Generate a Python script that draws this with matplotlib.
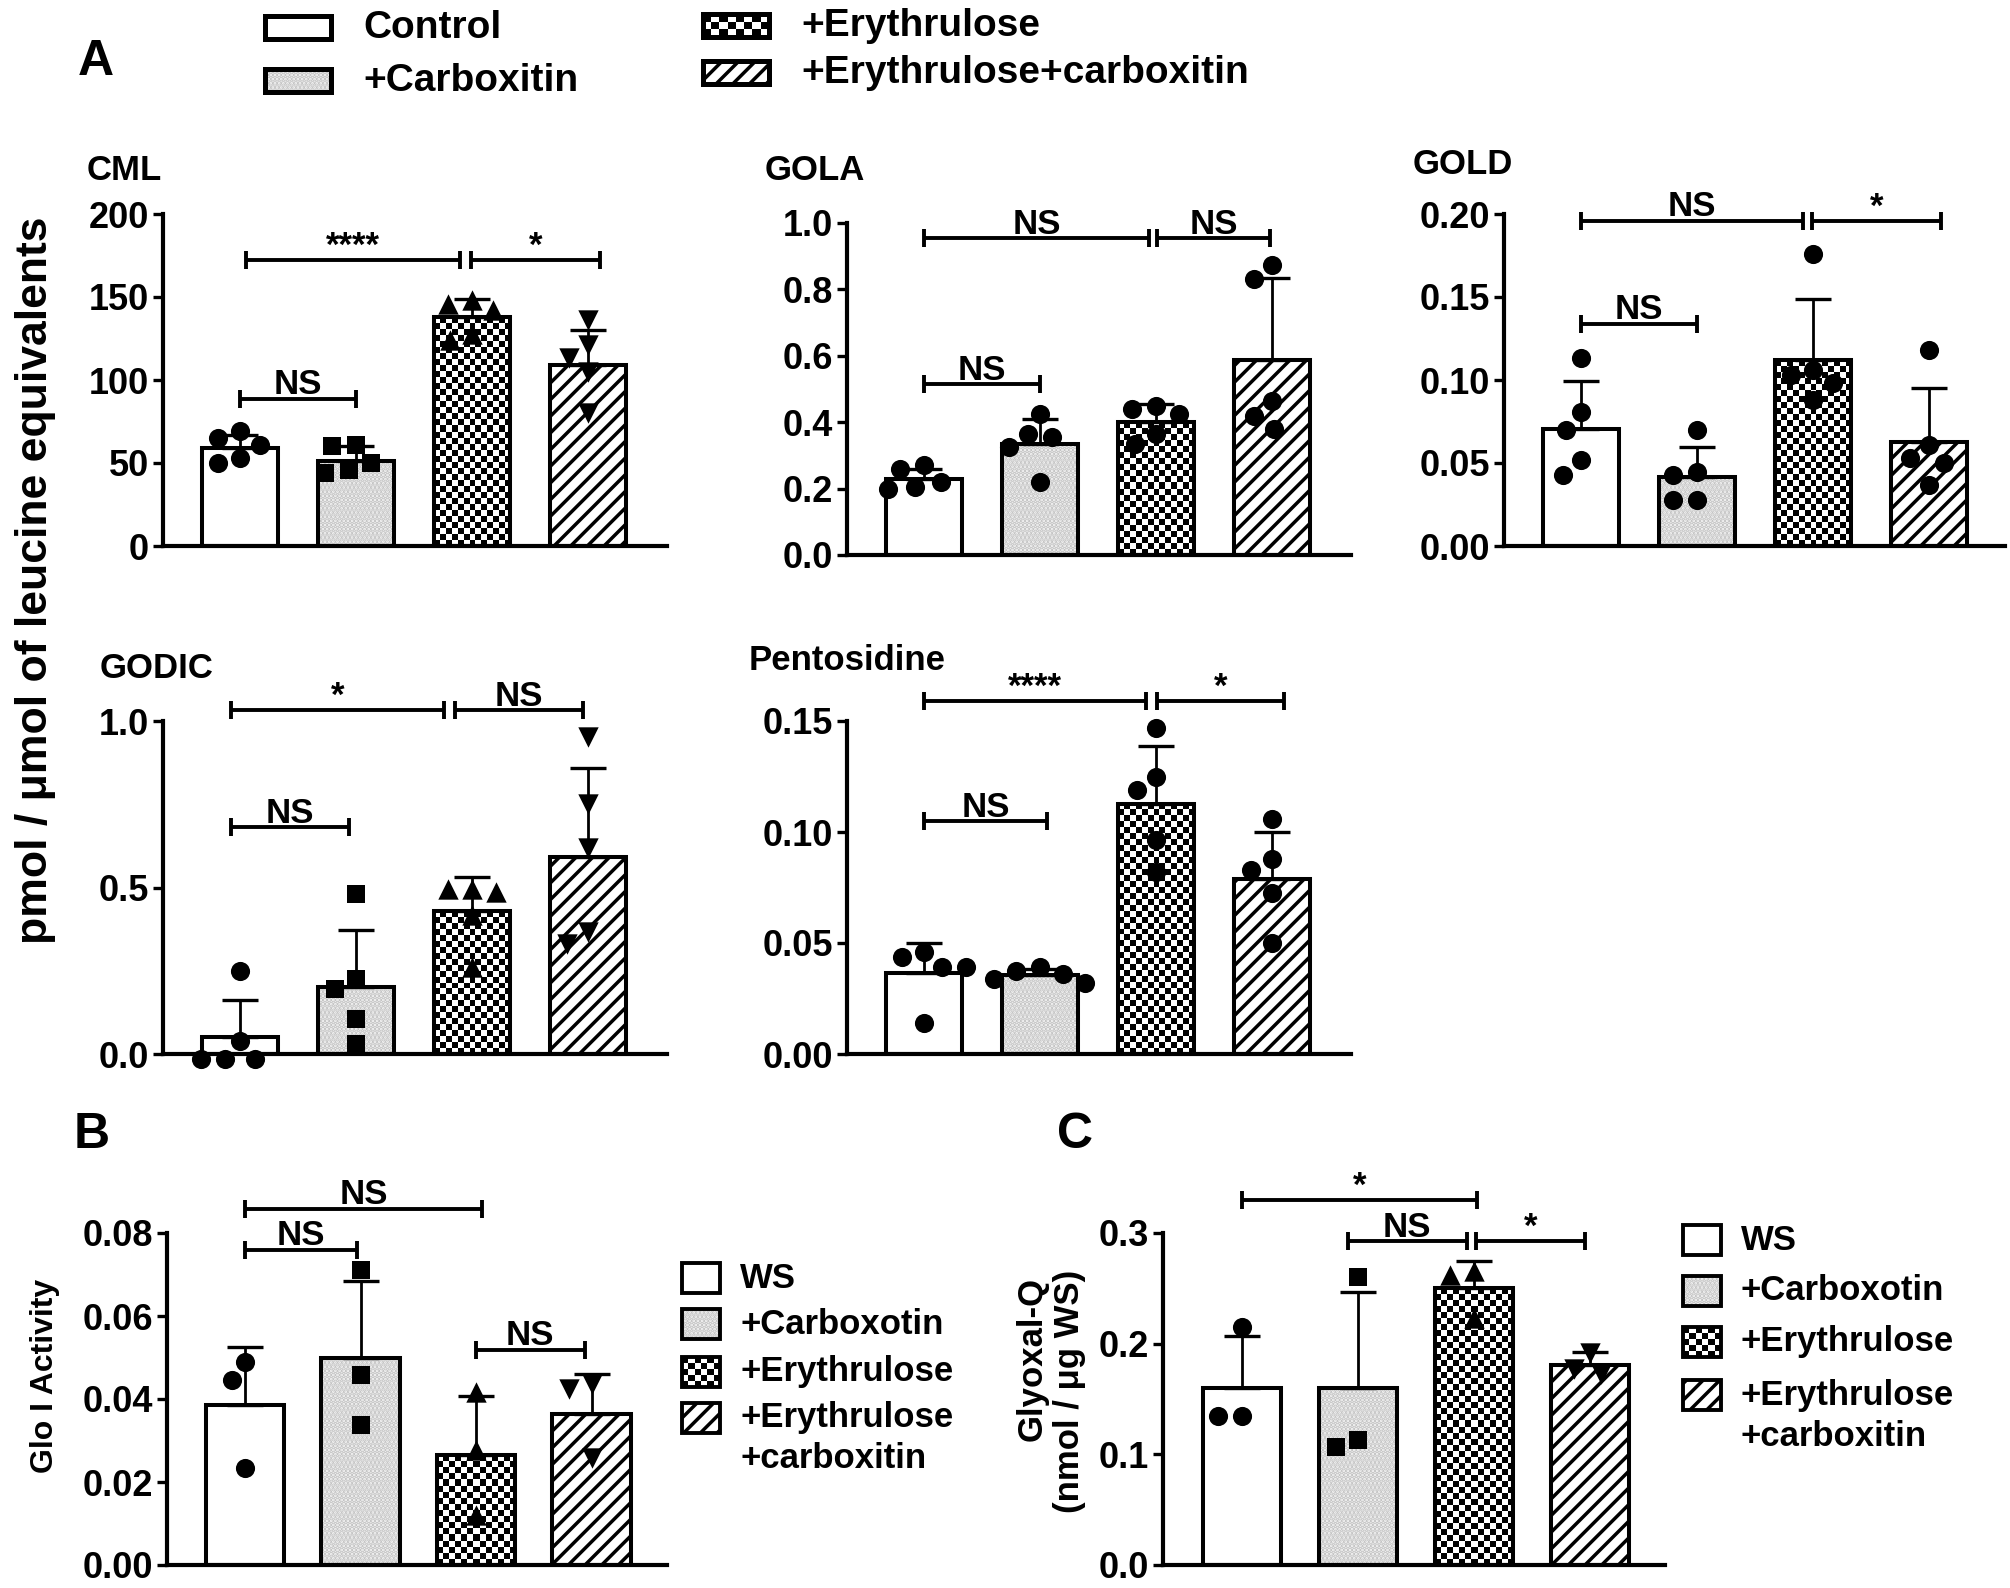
import numpy as np
import matplotlib
matplotlib.use("Agg")
import matplotlib.pyplot as plt
from matplotlib.patches import Rectangle
from matplotlib.ticker import FormatStrFormatter

plt.rcParams["font.family"] = ["Liberation Sans", "DejaVu Sans"]
plt.rcParams["font.weight"] = "bold"
plt.rcParams["hatch.linewidth"] = 2.5

# ---------------- data ----------------
legend_a = ["Control", "+Carboxitin", "+Erythrulose", "+Erythrulose+carboxitin"]
legend_bc = ["WS", "+Carboxotin", "+Erythrulose", "+Erythrulose\n+carboxitin"]

cml_mean = [59, 51.5, 137.7, 108.8]
cml_sd = [8, 8.8, 11, 21.5]
cml_pts = [[69, 65, 61, 53, 50], [61, 60, 50, 46, 44],
           [148, 146, 142, 128, 124], [136, 121, 113, 105, 80]]
cml_ticks = [0, 50, 100, 150, 200]

gola_mean = [0.23, 0.333, 0.40, 0.588]
gola_sd = [0.028, 0.077, 0.055, 0.247]
gola_pts = [[0.27, 0.26, 0.22, 0.20, 0.205], [0.425, 0.365, 0.355, 0.325, 0.22],
            [0.45, 0.44, 0.425, 0.365, 0.335], [0.875, 0.83, 0.465, 0.42, 0.38]]
gola_ticks = [0.0, 0.2, 0.4, 0.6, 0.8, 1.0]

gold_mean = [0.0703, 0.0418, 0.112, 0.0629]
gold_sd = [0.0293, 0.0176, 0.037, 0.032]
gold_pts = [[0.113, 0.081, 0.070, 0.052, 0.043], [0.070, 0.0448, 0.0428, 0.028, 0.028],
            [0.176, 0.106, 0.103, 0.098, 0.088], [0.118, 0.061, 0.053, 0.050, 0.037]]
gold_ticks = [0.0, 0.05, 0.10, 0.15, 0.20]

godic_mean = [0.052, 0.202, 0.429, 0.593]
godic_sd = [0.111, 0.169, 0.102, 0.267]
godic_pts = [[0.25, 0.04, -0.015, -0.015, -0.015], [0.481, 0.225, 0.195, 0.105, 0.03],
             [0.496, 0.496, 0.486, 0.416, 0.26], [0.952, 0.75, 0.62, 0.366, 0.33]]
godic_ticks = [0.0, 0.5, 1.0]

pent_mean = [0.0363, 0.0355, 0.1128, 0.079]
pent_sd = [0.0135, 0.003, 0.026, 0.021]
pent_pts = [[0.046, 0.0438, 0.0393, 0.0393, 0.0138], [0.039, 0.0375, 0.036, 0.034, 0.032],
            [0.147, 0.125, 0.119, 0.0963, 0.082], [0.106, 0.088, 0.0828, 0.0723, 0.0498]]
pent_ticks = [0.0, 0.05, 0.10, 0.15]

glo_mean = [0.0385, 0.050, 0.0265, 0.0364]
glo_sd = [0.0141, 0.0184, 0.0142, 0.0097]
glo_pts = [[0.049, 0.0445, 0.0233], [0.071, 0.0457, 0.0337],
           [0.0417, 0.0278, 0.012], [0.0437, 0.0425, 0.0257]]
glo_ticks = [0.0, 0.02, 0.04, 0.06, 0.08]

glyq_mean = [0.160, 0.1595, 0.250, 0.1806]
glyq_sd = [0.047, 0.0875, 0.025, 0.012]
glyq_pts = [[0.215, 0.135, 0.1345], [0.26, 0.113, 0.107],
            [0.266, 0.262, 0.223], [0.192, 0.177, 0.173]]
glyq_ticks = [0.0, 0.1, 0.2, 0.3]

# significance brackets: (from group, to group, height, label)
cml_sig = [(0.05, 1.9, 172, "****"), (1.99, 3.1, 172, "*"), (0, 1, 88.8, "NS")]
gola_sig = [(0, 1.94, 0.955, "NS"), (2.01, 2.98, 0.955, "NS"), (0, 1, 0.515, "NS")]
gold_sig = [(0, 1.91, 0.196, "NS"), (1.99, 3.1, 0.196, "*"), (0, 1, 0.134, "NS")]
godic_sig = [(-0.08, 1.76, 1.032, "*"), (1.85, 2.96, 1.032, "NS"), (-0.08, 0.94, 0.681, "NS")]
pent_sig = [(0, 1.91, 0.159, "****"), (2.01, 3.1, 0.159, "*"), (0, 1.06, 0.105, "NS")]
glo_sig = [(0, 2.05, 0.0859, "NS"), (0, 0.97, 0.076, "NS"), (2.0, 2.94, 0.0519, "NS")]
glyq_sig = [(0, 2.03, 0.330, "*"), (0.91, 1.94, 0.293, "NS"), (2.02, 2.96, 0.293, "*")]

# ---------------- figure ----------------
W, H = 2010, 1588
fig = plt.figure(figsize=(W / 100, H / 100), dpi=100)


def checker(ax, patch, cell):
    x0, y0 = patch.get_x(), patch.get_y()
    x1, y1 = x0 + patch.get_width(), y0 + patch.get_height()
    (px0, py0), (px1, py1) = ax.transData.transform([(x0, y0), (x1, y1)])
    nx = max(1, int(round(abs(px1 - px0) / cell)))
    ny = max(1, int(round(abs(py1 - py0) / cell)))
    grid = np.indices((ny, nx)).sum(axis=0) % 2
    im = ax.imshow(grid, cmap="gray", vmin=0, vmax=1, extent=(x0, x1, y0, y1),
                   origin="lower", interpolation="nearest", aspect="auto",
                   zorder=patch.get_zorder() + 0.1)
    im.set_clip_path(patch)


def styled_rect(ax, kind, x, y, w, h, lw, cell):
    # one bar-like rectangle with the group's fill style
    if kind == 0:
        ax.add_patch(Rectangle((x, y), w, h, facecolor="white", edgecolor="k", lw=lw, zorder=2))
        return
    if kind == 1:
        ax.add_patch(Rectangle((x, y), w, h, facecolor="#f4f4f4", edgecolor="#c4c4c4",
                               hatch="....", lw=0, zorder=2))
    elif kind == 2:
        r = Rectangle((x, y), w, h, facecolor="white", lw=0, zorder=2)
        ax.add_patch(r)
        checker(ax, r, cell)
    else:
        ax.add_patch(Rectangle((x, y), w, h, facecolor="white", edgecolor="k",
                               hatch="//", lw=0, zorder=2))
    ax.add_patch(Rectangle((x, y), w, h, fill=False, edgecolor="k", lw=lw, zorder=3))


def swarm(ax, x, vals, diam):
    t = ax.transData
    sx = t.transform((1, 0))[0] - t.transform((0, 0))[0]
    ys = np.array([t.transform((0, v))[1] for v in vals])
    cands = [0.0]
    for k in range(1, 60):
        cands += [-1.5 * k, 1.5 * k]
    placed, offs = [], np.zeros(len(vals))
    for i in np.argsort(-np.asarray(vals), kind="stable"):
        for dx in cands:
            if all(np.hypot(dx - px, ys[i] - py) >= diam for px, py in placed):
                break
        placed.append((dx, ys[i]))
        offs[i] = dx / sx
    return x + offs


def bracket(ax, x1, x2, y, label):
    t = ax.transData
    dy = 9 / (t.transform((0, 1))[1] - t.transform((0, 0))[1])
    kw = dict(color="k", lw=2.8, clip_on=False, solid_capstyle="butt")
    ax.plot([x1, x2], [y, y], **kw)
    ax.plot([x1, x1], [y - dy, y + dy], **kw)
    ax.plot([x2, x2], [y - dy, y + dy], **kw)
    ax.annotate(label, xy=((x1 + x2) / 2, y), xytext=(0, 3), textcoords="offset points",
                ha="center", va="baseline", fontsize=25, fontweight="bold",
                annotation_clip=False)


def panel(box, first, step, ymax, ticks, fmt, means, sds, pts, markers, sigs, bw):
    left, top, right, bottom = box
    ax = fig.add_axes([left / W, 1 - bottom / H, (right - left) / W, (bottom - top) / H])
    ax.set_xlim(-first / step, (right - left - first) / step)
    ax.set_ylim(0, ymax)
    for s in ["top", "right"]:
        ax.spines[s].set_visible(False)
    for s in ["left", "bottom"]:
        ax.spines[s].set_linewidth(3.0)
    ax.set_xticks([])
    ax.set_yticks(ticks)
    ax.yaxis.set_major_formatter(FormatStrFormatter(fmt))
    ax.tick_params(axis="y", direction="out", length=7, width=2.4, labelsize=26, pad=3)
    xs = np.arange(len(means))
    for i, m in enumerate(means):
        styled_rect(ax, i, xs[i] - bw / 2, 0, bw, m, 2.9, 6)
    ax.errorbar(xs, means, yerr=[np.zeros(len(sds)), sds], fmt="none", ecolor="k",
                elinewidth=2.0, capsize=13, capthick=2.4, zorder=4)
    sizes = {"o": 190, "s": 170, "^": 215, "v": 215}
    for i, vals in enumerate(pts):
        px = swarm(ax, xs[i], vals, 23)
        ax.scatter(px, vals, marker=markers[i], s=sizes[markers[i]], c="k",
                   linewidths=0, zorder=5, clip_on=False)
    for x1, x2, y, lab in sigs:
        bracket(ax, x1, x2, y, lab)
    return ax


shapes = ["o", "s", "^", "v"]
dots = ["o", "o", "o", "o"]

panel((163, 214, 667, 546), 77, 116, 200, cml_ticks, "%d",
      cml_mean, cml_sd, cml_pts, shapes, cml_sig, 0.66)
panel((847, 223, 1351, 555), 77, 116, 1.0, gola_ticks, "%.1f",
      gola_mean, gola_sd, gola_pts, dots, gola_sig, 0.66)
panel((1504, 214, 2005, 546), 77, 116, 0.20, gold_ticks, "%.2f",
      gold_mean, gold_sd, gold_pts, dots, gold_sig, 0.66)
panel((163, 721, 667, 1054), 77, 116, 1.0, godic_ticks, "%.1f",
      godic_mean, godic_sd, godic_pts, shapes, godic_sig, 0.66)
panel((847, 721, 1351, 1054), 77, 116, 0.15, pent_ticks, "%.2f",
      pent_mean, pent_sd, pent_pts, dots, pent_sig, 0.66)
panel((167, 1233, 667, 1565), 78, 115.5, 0.08, glo_ticks, "%.2f",
      glo_mean, glo_sd, glo_pts, shapes, glo_sig, 0.68)
panel((1163, 1233, 1665, 1565), 79, 116, 0.3, glyq_ticks, "%.1f",
      glyq_mean, glyq_sd, glyq_pts, shapes, glyq_sig, 0.68)

# ---------------- overlay: labels, titles, legends ----------------
lax = fig.add_axes([0, 0, 1, 1])
lax.set_xlim(0, W)
lax.set_ylim(H, 0)
lax.set_axis_off()
lax.set_zorder(10)

for s, x, y in [("A", 96, 62), ("B", 92, 1135), ("C", 1075, 1135)]:
    lax.text(x, y, s, fontsize=36, ha="center", va="center")

for s, x, y in [("CML", 87, 170), ("GOLA", 765, 170), ("GOLD", 1413, 164),
                ("GODIC", 100, 669), ("Pentosidine", 749, 661)]:
    lax.text(x, y, s, fontsize=25, ha="left", va="center")

lax.text(36, 580, "pmol / μmol of leucine equivalents", rotation=90,
         fontsize=32, ha="center", va="center")
lax.text(45, 1376, "Glo I Activity", rotation=90, fontsize=23, ha="center", va="center")
lax.text(1032, 1359, "Glyoxal-Q", rotation=90, fontsize=25, ha="center", va="center")
lax.text(1069, 1391, "(nmol / μg WS)", rotation=90, fontsize=25, ha="center", va="center")

# top legend
top_slots = [(265, 16), (265, 69), (703, 14), (703, 61)]
for k, (lab, (x, y)) in enumerate(zip(legend_a, top_slots)):
    styled_rect(lax, k, x, y, 66, 23, 3.6, 8)
    lax.text(x + 98, y + 12, lab, fontsize=28, ha="left", va="center")

# B and C legends
for x0, rows in [(682, [1278, 1324, 1372, 1418]), (1683, [1240, 1291, 1342, 1395])]:
    for k, (lab, yc) in enumerate(zip(legend_bc, rows)):
        styled_rect(lax, k, x0, yc - 15, 38, 30, 2.8, 6)
        for j, line in enumerate(lab.split("\n")):
            lax.text(x0 + 58, yc + j * 41, line, fontsize=25, ha="left", va="center")

fig.savefig("out.png", dpi=100)
